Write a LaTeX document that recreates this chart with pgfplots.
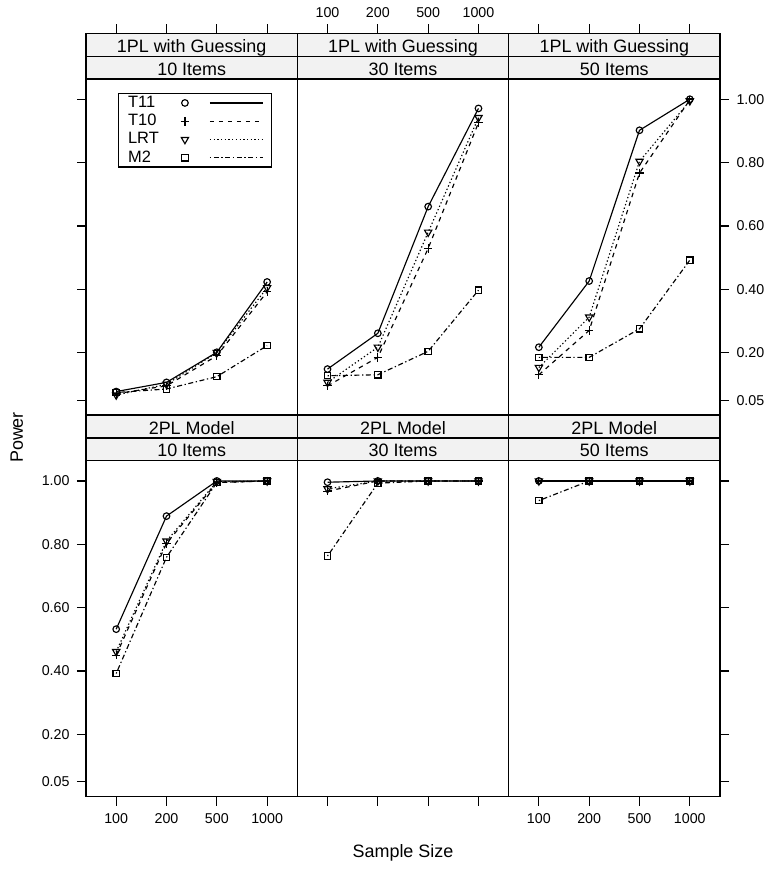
\documentclass[border=0pt]{standalone}
\usepackage{fontspec}
\setmainfont{Liberation Sans}
\usepackage{pgfplots}
\pgfplotsset{compat=1.18}
\definecolor{stripgray}{RGB}{242,242,242}
\newcommand{\fs}[1]{\fontsize{#1}{#1}\selectfont}
\pgfplotsset{
  panel/.style={scale only axis, width=211.33bp, height=381.7bp,
    xmin=0.4, xmax=4.6, ymin=0.003, ymax=1.2083,
    xtick={1,2,3,4}, ytick={0.05,0.2,0.4,0.6,0.8,1},
    xticklabels={}, yticklabels={},
    tick align=outside, major tick length=9bp,
    axis line style={line width=1.35bp},
    major tick style={line width=1.2bp, black},
    ticklabel style={font=\fs{14.3}},
    clip=false},
  xlab/.style={xticklabels={100,200,500,1000}},
  ylab/.style={yticklabels={0.05,0.20,0.40,0.60,0.80,1.00}},
  s11/.style={black, line width=1.15bp, solid, mark=o, mark size=3.3bp, mark options={solid}},
  s10/.style={black, line width=1.15bp, dash pattern=on 4.5bp off 4.5bp, mark=+, mark size=4.3bp, mark options={solid}},
  sLR/.style={black, line width=1.15bp, dash pattern=on 1.3bp off 2.4bp, mark=triangle, mark size=4.2bp, mark options={solid, rotate=180}},
  sM2/.style={black, line width=1.15bp, dash pattern=on 1.3bp off 2.6bp on 5bp off 2.6bp, mark=square, mark size=3.2bp, mark options={solid}},
}
\begin{document}
\begin{tikzpicture}[x=1bp,y=1bp]
\useasboundingbox (0,0) rectangle (772,869);
% ---------- upper row: 1PL with Guessing ----------
\begin{axis}[panel, at={(86bp,454bp)}, anchor=south west,
  xtick pos=right, ytick pos=left,
  legend plot pos=right, legend cell align=left,
  legend style={at={(0.1514,0.843)}, anchor=north west, draw=black, line width=1.2bp,
    fill=white, font=\fs{16.5}, inner xsep=8bp, inner ysep=0bp, row sep=0bp,
    nodes={inner sep=1.5bp, text height=12bp, text depth=3.3bp}},
  legend image code/.code={\path (0bp,-4bp) (0bp,4bp);
    \draw[#1, only marks] plot coordinates {(24bp,0bp)};
    \draw[#1, mark=none] (49bp,0bp) -- (102bp,0bp);}]
\addplot[s11] coordinates {(1,0.077) (2,0.106) (3,0.201) (4,0.423)};
\addlegendentry{T11}
\addplot[s10] coordinates {(1,0.070) (2,0.095) (3,0.190) (4,0.392)};
\addlegendentry{T10}
\addplot[sLR] coordinates {(1,0.066) (2,0.100) (3,0.200) (4,0.405)};
\addlegendentry{LRT}
\addplot[sM2] coordinates {(1,0.074) (2,0.085) (3,0.124) (4,0.222)};
\addlegendentry{M2}
\end{axis}
\begin{axis}[panel, xlab, at={(297.33bp,454bp)}, anchor=south west,
  xtick pos=right, ytick=\empty, xticklabel style={yshift=3.5bp}]
\addplot[s11] coordinates {(1,0.148) (2,0.261) (3,0.661) (4,0.971)};
\addplot[s10] coordinates {(1,0.095) (2,0.185) (3,0.529) (4,0.926)};
\addplot[sLR] coordinates {(1,0.106) (2,0.217) (3,0.580) (4,0.942)};
\addplot[sM2] coordinates {(1,0.127) (2,0.130) (3,0.204) (4,0.397)};
\end{axis}
\begin{axis}[panel, ylab, at={(508.67bp,454bp)}, anchor=south west,
  xtick pos=right, ytick pos=right, yticklabel style={xshift=4bp}]
\addplot[s11] coordinates {(1,0.217) (2,0.426) (3,0.902) (4,1.000)};
\addplot[s10] coordinates {(1,0.130) (2,0.270) (3,0.767) (4,0.998)};
\addplot[sLR] coordinates {(1,0.153) (2,0.312) (3,0.804) (4,0.995)};
\addplot[sM2] coordinates {(1,0.185) (2,0.185) (3,0.275) (4,0.492)};
\end{axis}
% ---------- lower row: 2PL Model ----------
\begin{axis}[panel, xlab, ylab, at={(86bp,72.3bp)}, anchor=south west,
  xtick pos=left, ytick pos=left, xticklabel style={yshift=-4.5bp}, yticklabel style={xshift=-4bp}]
\addplot[s11] coordinates {(1,0.532) (2,0.889) (3,1.000) (4,1.000)};
\addplot[s10] coordinates {(1,0.450) (2,0.803) (3,0.995) (4,1.000)};
\addplot[sLR] coordinates {(1,0.461) (2,0.810) (3,0.998) (4,1.000)};
\addplot[sM2] coordinates {(1,0.392) (2,0.759) (3,0.995) (4,1.000)};
\end{axis}
\begin{axis}[panel, at={(297.33bp,72.3bp)}, anchor=south west,
  xtick pos=left, ytick=\empty]
\addplot[s11] coordinates {(1,0.996) (2,1.000) (3,1.000) (4,1.000)};
\addplot[s10] coordinates {(1,0.968) (2,1.000) (3,1.000) (4,1.000)};
\addplot[sLR] coordinates {(1,0.975) (2,1.000) (3,1.000) (4,1.000)};
\addplot[sM2] coordinates {(1,0.763) (2,0.993) (3,1.000) (4,1.000)};
\end{axis}
\begin{axis}[panel, xlab, at={(508.67bp,72.3bp)}, anchor=south west,
  xtick pos=left, ytick pos=right, xticklabel style={yshift=-4.5bp}]
\addplot[s11] coordinates {(1,1.000) (2,1.000) (3,1.000) (4,1.000)};
\addplot[s10] coordinates {(1,1.000) (2,1.000) (3,1.000) (4,1.000)};
\addplot[sLR] coordinates {(1,1.000) (2,1.000) (3,1.000) (4,1.000)};
\addplot[sM2] coordinates {(1,0.938) (2,1.000) (3,1.000) (4,1.000)};
\end{axis}
% ---------- strips ----------
\begin{scope}[line width=1.35bp]
\foreach \xa/\xb/\tA/\tB in {86/297.33/1PL with Guessing/10 Items, 297.33/508.67/1PL with Guessing/30 Items, 508.67/720/1PL with Guessing/50 Items}{
  \filldraw[fill=stripgray] (\xa,790) rectangle (\xb,812.5);
  \filldraw[fill=stripgray] (\xa,812.5) rectangle (\xb,835.7);
  \node[anchor=base, font=\fs{18}, inner sep=0] at ({(\xa+\xb)/2},816.2) {\tA};
  \node[anchor=base, font=\fs{18}, inner sep=0] at ({(\xa+\xb)/2},793.7) {\tB};
}
\foreach \xa/\xb/\tA/\tB in {86/297.33/2PL Model/10 Items, 297.33/508.67/2PL Model/30 Items, 508.67/720/2PL Model/50 Items}{
  \filldraw[fill=stripgray] (\xa,408.3) rectangle (\xb,431);
  \filldraw[fill=stripgray] (\xa,431) rectangle (\xb,454);
  \node[anchor=base, font=\fs{18}, inner sep=0] at ({(\xa+\xb)/2},434.7) {\tA};
  \node[anchor=base, font=\fs{18}, inner sep=0] at ({(\xa+\xb)/2},412) {\tB};
}
\end{scope}
\node[rotate=90, font=\fs{18}] at (16.7,431.5) {Power};
\node[font=\fs{18}] at (403,16) {Sample Size};
\end{tikzpicture}
\end{document}
